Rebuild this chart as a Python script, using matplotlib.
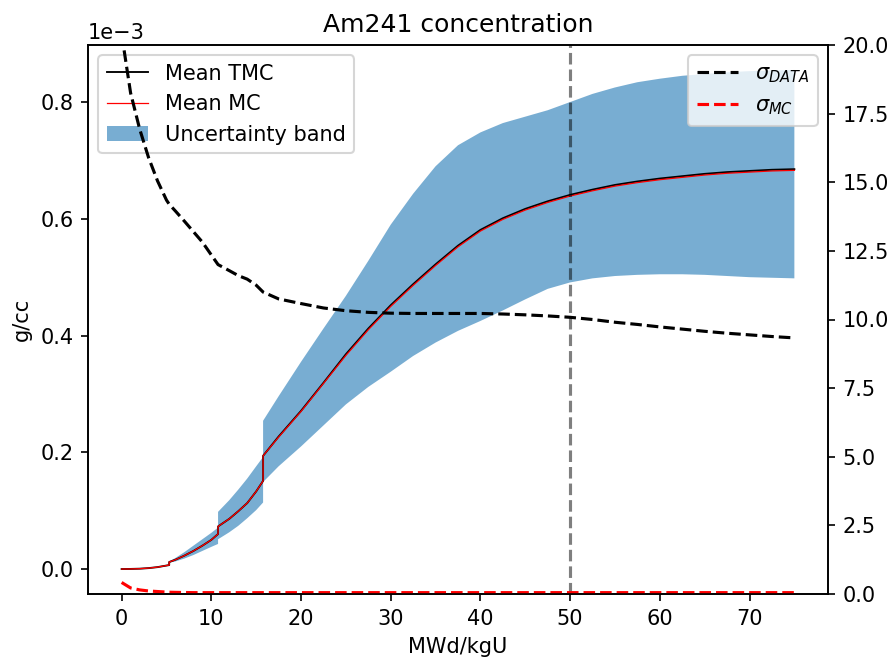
import numpy as np
import matplotlib
matplotlib.use('Agg')
import matplotlib.pyplot as plt
from matplotlib.ticker import MultipleLocator

# burnup points (MWd/kgU), repeated x where the curves jump
burnup = [0, 1, 2, 3, 4, 5, 5.3,
          5.3, 6, 7, 8, 9, 10, 10.75,
          10.75, 12, 13, 14, 15, 15.77,
          15.77, 17.5, 20, 22.5, 25, 27.5, 30, 32.5, 35, 37.5, 40, 42.5, 45,
          47.5, 50, 52.5, 55, 57.5, 60, 62.5, 65, 67.5, 70, 72.5, 75]

# mean concentrations, units of 1e-3 g/cc
mean_mc = [0.0, 0.0002, 0.0006, 0.0016, 0.0033, 0.0060, 0.0068,
           0.012, 0.016, 0.023, 0.031, 0.040, 0.050, 0.060,
           0.073, 0.086, 0.099, 0.113, 0.133, 0.151,
           0.194, 0.226, 0.270, 0.318, 0.366, 0.410, 0.450, 0.486, 0.520, 0.552,
           0.579, 0.599, 0.615, 0.628, 0.639, 0.648, 0.656, 0.662, 0.667, 0.671,
           0.675, 0.678, 0.680, 0.682, 0.683]
mean_tmc = [0.0, 0.0002, 0.0006, 0.0016, 0.0033, 0.0060, 0.0068,
            0.012, 0.016, 0.023, 0.031, 0.040, 0.050, 0.060,
            0.073, 0.086, 0.099, 0.113, 0.133, 0.151,
            0.194, 0.227, 0.271, 0.319, 0.368, 0.412, 0.452, 0.488, 0.522, 0.554,
            0.581, 0.601, 0.617, 0.630, 0.641, 0.650, 0.658, 0.664, 0.669, 0.673,
            0.677, 0.680, 0.682, 0.684, 0.685]
band_hi = [0.0, 0.0002, 0.0006, 0.0016, 0.0033, 0.0060, 0.0068,
           0.013, 0.019, 0.029, 0.040, 0.051, 0.062, 0.071,
           0.098, 0.118, 0.136, 0.155, 0.176, 0.192,
           0.254, 0.296, 0.355, 0.412, 0.468, 0.528, 0.590, 0.643, 0.690, 0.726,
           0.748, 0.764, 0.775, 0.786, 0.800, 0.814, 0.825, 0.834, 0.840, 0.845,
           0.848, 0.851, 0.853, 0.854, 0.855]
band_lo = [0.0, 0.0002, 0.0006, 0.0016, 0.0033, 0.0060, 0.0068,
           0.011, 0.013, 0.018, 0.024, 0.031, 0.038, 0.043,
           0.051, 0.063, 0.074, 0.087, 0.101, 0.114,
           0.149, 0.176, 0.210, 0.246, 0.282, 0.312, 0.338, 0.365, 0.388, 0.408,
           0.425, 0.443, 0.462, 0.480, 0.491, 0.498, 0.502, 0.504, 0.505, 0.505,
           0.504, 0.502, 0.500, 0.499, 0.498]

# relative standard deviations, %
sigma_data = [20.4, 18.25, 16.95, 15.9, 15.05, 14.35, 14.2,
              14.2, 13.95, 13.58, 13.2, 12.82, 12.35, 12.0,
              12.0, 11.78, 11.6, 11.47, 11.25, 11.0,
              11.0, 10.75, 10.58, 10.42, 10.32, 10.26, 10.23, 10.22, 10.22, 10.22,
              10.22, 10.2, 10.17, 10.13, 10.08, 10.0, 9.9, 9.82, 9.73, 9.65,
              9.57, 9.5, 9.44, 9.38, 9.33]
sigma_mc = [0.42, 0.22, 0.15, 0.11, 0.09, 0.07, 0.065,
            0.065, 0.06, 0.055, 0.05, 0.05, 0.05, 0.05,
            0.05, 0.05, 0.05, 0.05, 0.05, 0.05,
            0.05, 0.05, 0.05, 0.05, 0.05, 0.05, 0.05, 0.05, 0.05, 0.05,
            0.05, 0.05, 0.05, 0.05, 0.05, 0.05, 0.05, 0.05, 0.05, 0.05,
            0.05, 0.05, 0.05, 0.05, 0.05]

x = np.array(burnup)
scale = 1e-3
dpi = 150

fig = plt.figure(figsize=(891/dpi, 657/dpi), dpi=dpi)
ax = fig.add_axes([88/891, 1 - 594/657, 740/891, 549/657])
ax.fill_between(x, np.array(band_lo)*scale, np.array(band_hi)*scale,
                alpha=0.6, label='Uncertainty band')
ax.plot(x, np.array(mean_tmc)*scale, color='black', lw=0.9, label='Mean TMC')
ax.plot(x, np.array(mean_mc)*scale, color='red', lw=0.6, label='Mean MC')
ax.axvline(50, color='black', alpha=0.5, ls='--', lw=1.5)
ax.ticklabel_format(style='sci', axis='y', scilimits=(-3, -3))
ax.set_title('Am241 concentration')
ax.set_xlabel('MWd/kgU')
ax.set_ylabel('g/cc')
h, l = ax.get_legend_handles_labels()
ax.legend([h[1], h[2], h[0]], [l[1], l[2], l[0]], loc='upper left')

ax2 = ax.twinx()
ax2.plot(x, sigma_data, 'k--', lw=1.5, label=r'$\sigma_{DATA}$')
ax2.plot(x, sigma_mc, 'r--', lw=1.5, label=r'$\sigma_{MC}$')
ax2.set_ylim(0, 20)
ax2.yaxis.set_major_locator(MultipleLocator(2.5))
ax2.legend(loc='upper right')

fig.savefig('out.png', dpi=dpi)
